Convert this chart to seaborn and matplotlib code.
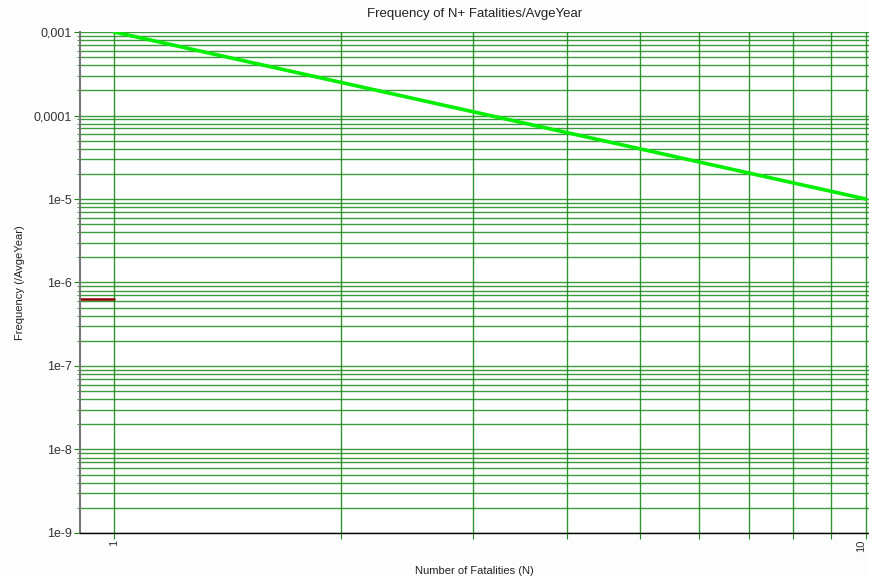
import numpy as np
import pandas as pd
import matplotlib
matplotlib.use('Agg')
import matplotlib.pyplot as plt
import matplotlib.ticker as mticker
import seaborn as sns

# FN curve data
fn_n = [1, 10]
fn_freq = [1e-3, 1e-5]
crit_n = [0.9, 1]
crit_freq = [6.4e-7, 6.4e-7]

y_ticks = [1e-3, 1e-4, 1e-5, 1e-6, 1e-7, 1e-8, 1e-9]
y_labels = ['0,001', '0,0001', '1e-5', '1e-6', '1e-7', '1e-8', '1e-9']
x_ticks = [1, 10]
x_labels = ['1', '10']

sns.set_style('white')
plt.rcParams['font.family'] = ['Liberation Sans', 'DejaVu Sans']

fig = plt.figure(figsize=(8.69, 5.77), dpi=100)
ax = fig.add_axes([0.092, 0.0763, 0.908, 0.8682])
ax.set_xscale('log')
ax.set_yscale('log')
ax.set_xlim(0.9, 10.1)
ax.set_ylim(1e-9, 1e-3)

# grid lines
ax.grid(True, which='both', axis='y', color='#1a8a1a', lw=1.0, alpha=0.85)
ax.grid(True, which='major', axis='x', color='#1a8a1a', lw=1.0, alpha=0.9)
ax.xaxis.set_major_locator(mticker.FixedLocator(list(range(1, 11))))
ax.yaxis.set_minor_locator(mticker.LogLocator(base=10, subs=np.arange(2, 10)))
ax.xaxis.set_minor_locator(mticker.NullLocator())

df_fn = pd.DataFrame({'N': fn_n, 'F': fn_freq})
df_crit = pd.DataFrame({'N': crit_n, 'F': crit_freq})
sns.lineplot(data=df_fn, x='N', y='F', ax=ax, color='#00ee00', lw=2.6)
sns.lineplot(data=df_crit, x='N', y='F', ax=ax, color='#8b0000', lw=1.8)

ax.set_xticks(list(range(1, 11)))
ax.set_xticklabels([x_labels[x_ticks.index(v)] if v in x_ticks else '' for v in range(1, 11)],
                   rotation=90, fontsize=8, color='#333333')
# keep the last label inside the figure
ax.get_xticklabels()[-1].set_horizontalalignment('right')
ax.set_yticks(y_ticks)
ax.set_yticklabels(y_labels, fontsize=9, color='#333333')
ax.tick_params(axis='y', which='both', left=True, length=4, color='#1a8a1a', pad=2)
ax.tick_params(axis='y', which='minor', length=2)
ax.tick_params(axis='x', which='major', bottom=True, length=4, color='#1a8a1a', pad=1)

for s in ['top', 'right']:
    ax.spines[s].set_visible(False)
ax.spines['left'].set_color('#777777')
ax.spines['left'].set_linewidth(1.5)
ax.spines['bottom'].set_color('black')
ax.spines['bottom'].set_linewidth(1.0)

ax.set_title('Frequency of N+ Fatalities/AvgeYear', fontsize=9.5, color='#222222', pad=11)
ax.set_xlabel('Number of Fatalities (N)', fontsize=8, color='#222222', labelpad=10)
ax.set_ylabel('Frequency (/AvgeYear)', fontsize=8, color='#222222', labelpad=6)

fig.savefig('out.png', dpi=100, facecolor='#fdfdfd')
